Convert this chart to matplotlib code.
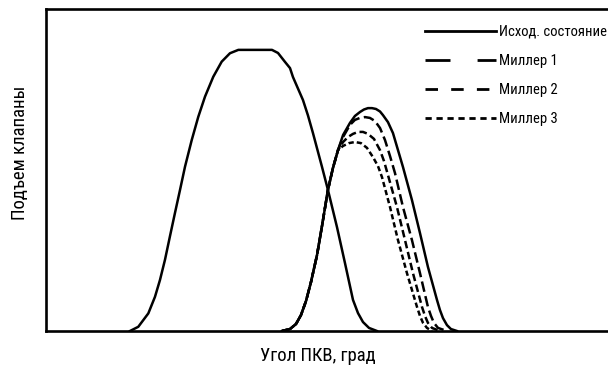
import matplotlib
matplotlib.use('Agg')
import matplotlib.pyplot as plt
from matplotlib.lines import Line2D

plt.rcParams['font.family'] = ['Roboto Condensed', 'DejaVu Sans']
plt.rcParams['lines.scale_dashes'] = False

# crank angle, deg / valve lift, mm
exhaust_angle = [107.6, 118.2, 131.1, 139.6, 146.0, 152.4, 158.7, 165.1, 171.7,
                 178.1, 186.7, 195.1, 203.7, 214.3, 225.1, 235.7, 246.4, 289.5,
                 297.2, 306.2, 312.6, 316.4, 329.2, 335.6, 342.0, 353.6, 361.2,
                 372.8, 383.0, 393.3, 399.7, 406.1, 413.8, 424.0]
exhaust_lift = [0.0, 0.15, 0.63, 1.22, 1.82, 2.54, 3.37, 4.20, 5.04,
                5.87, 6.82, 7.65, 8.37, 9.08, 9.62, 9.92, 10.04, 10.04,
                9.93, 9.61, 9.39, 9.07, 8.25, 7.70, 7.07, 5.86, 5.04,
                3.71, 2.43, 1.11, 0.64, 0.32, 0.11, 0.0]

intake_angle = [302.3, 312.6, 320.3, 326.7, 333.1, 339.5, 347.2, 353.6, 361.2,
                367.6, 374.1, 380.6, 389.4, 395.8, 402.2, 407.3, 412.5, 417.6,
                422.7, 427.9, 431.7, 438.1, 444.5, 457.3, 468.8, 479.1, 489.3,
                500.9, 504.7, 508.6, 513.7, 518.8, 526.5]
intake_lift = [0.0, 0.07, 0.25, 0.57, 1.07, 1.75, 2.71, 3.75, 5.04,
               5.82, 6.46, 7.00, 7.43, 7.68, 7.82, 7.91, 7.96, 7.96,
               7.93, 7.84, 7.71, 7.46, 7.07, 5.86, 4.68, 3.50, 2.29,
               1.11, 0.75, 0.46, 0.21, 0.07, 0.0]

# Miller cams share the opening flank with the stock intake cam
N_SHARED = 11
miller1_angle = intake_angle[:N_SHARED] + [380.6, 389.4, 395.8, 402.2, 408.6, 415.0,
                                           421.4, 427.9, 434.3, 440.7, 447.1, 457.3,
                                           468.8, 479.1, 489.3, 493.2, 497.0, 502.2,
                                           513.7]
miller1_lift = intake_lift[:N_SHARED] + [6.93, 7.36, 7.54, 7.61, 7.64, 7.61,
                                         7.50, 7.25, 6.82, 6.25, 5.64, 4.43,
                                         3.25, 2.07, 0.86, 0.54, 0.29, 0.11,
                                         0.0]
miller2_angle = intake_angle[:N_SHARED] + [380.6, 387.0, 393.3, 399.7, 406.1, 412.5,
                                           420.2, 427.9, 433.0, 438.1, 449.6, 459.9,
                                           470.1, 481.7, 485.5, 489.3, 494.5, 504.7]
miller2_lift = intake_lift[:N_SHARED] + [6.75, 6.93, 7.04, 7.11, 7.11, 7.04,
                                         6.86, 6.46, 6.07, 5.57, 4.43, 3.25,
                                         2.07, 0.86, 0.54, 0.29, 0.11, 0.0]
miller3_angle = intake_angle[:N_SHARED] + [380.6, 388.2, 395.8, 403.5, 411.2, 418.9,
                                           425.3, 430.4, 440.7, 450.9, 462.4, 475.3,
                                           479.1, 483.0, 488.1, 494.5]
miller3_lift = intake_lift[:N_SHARED] + [6.61, 6.71, 6.75, 6.71, 6.54, 6.21,
                                         5.89, 5.50, 4.43, 3.25, 2.07, 0.86,
                                         0.54, 0.29, 0.11, 0.0]

labels = ['Исход. состояние', 'Миллер 1', 'Миллер 2', 'Миллер 3']

LW = 1.8
fig = plt.figure(figsize=(6.08, 3.68), dpi=100)
ax = fig.add_axes([46 / 608, 37 / 368, 562 / 608, 322 / 368])

style = dict(color='black', lw=LW, solid_joinstyle='round', dash_joinstyle='round')
ax.plot(exhaust_angle, exhaust_lift, **style)
ax.plot(intake_angle, intake_lift, **style)
ax.plot(miller1_angle, miller1_lift, dashes=(7.6, 3.2), **style)
ax.plot(miller2_angle, miller2_lift, dashes=(5.4, 2.7), **style)
ax.plot(miller3_angle, miller3_lift, dashes=(3.8, 2.2), **style)

ax.set_xlim(0, 720)
ax.set_ylim(0, 11.5)
ax.set_xticks([])
ax.set_yticks([])
ax.spines['right'].set_visible(False)
for side in ['left', 'top', 'bottom']:
    ax.spines[side].set_linewidth(1.9)

handles = [
    Line2D([], [], color='black', lw=2.0),
    Line2D([], [], color='black', lw=2.0, dashes=(18, 19.5)),
    Line2D([], [], color='black', lw=2.0, dashes=(9, 9.5)),
    Line2D([], [], color='black', lw=2.0, dashes=(4.5, 3.4)),
]
ax.legend(handles, labels, loc='upper left', bbox_to_anchor=(425 / 608, 1 - 25 / 368),
          bbox_transform=fig.transFigure, frameon=False, fontsize=10.5,
          handlelength=4.9, handletextpad=0.15, labelspacing=1.02,
          borderaxespad=0, borderpad=0)

fig.text(20 / 608, 1 - 153 / 368, 'Подъем клапаны', rotation=90,
         ha='center', va='center', fontsize=13.5)
fig.text(318 / 608, 1 - 356 / 368, 'Угол ПКВ, град',
         ha='center', va='center', fontsize=13.5)

fig.savefig('out.png', dpi=100)
